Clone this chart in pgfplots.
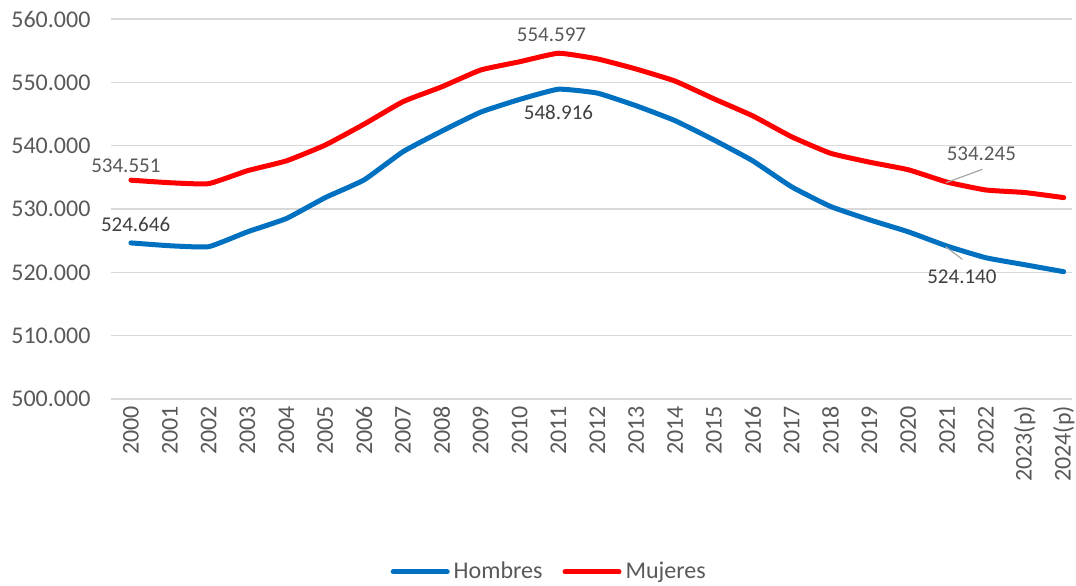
\documentclass[border=0pt]{standalone}
\usepackage{pgfplots}
\pgfplotsset{compat=1.18}
\usepackage{fontspec}
\setmainfont{Carlito}
\definecolor{hblue}{HTML}{0070C0}
\definecolor{mred}{HTML}{FF0000}
\definecolor{tickgray}{HTML}{595959}
\definecolor{gridgray}{HTML}{D9D9D9}
\definecolor{lblgray}{HTML}{404040}
\definecolor{leadgray}{HTML}{A6A6A6}
\begin{document}
\begin{tikzpicture}
\begin{axis}[
    width=480pt, height=190pt,
    scale only axis,
    xmin=-0.5, xmax=24.2,
    ymin=500000, ymax=560000,
    ytick={500000,510000,...,560000},
    xtick={0,...,24},
    xticklabels={2000,2001,2002,2003,2004,2005,2006,2007,2008,2009,2010,2011,2012,2013,2014,2015,2016,2017,2018,2019,2020,2021,2022,2023(p),2024(p)},
    x tick label style={rotate=90, anchor=east, font=\fontsize{12}{14}\selectfont, text=tickgray},
    y tick label style={font=\fontsize{12}{14}\selectfont, text=tickgray, xshift=-7pt},
    scaled y ticks=false,
    /pgf/number format/.cd, 1000 sep={.}, fixed, precision=0, assume math mode=true,
    /pgfplots/.cd,
    axis line style={draw=none},
    major tick length=0pt,
    ymajorgrids,
    grid style={gridgray, line width=0.8pt},
    legend style={at={(0.457,-0.455)}, anchor=center, draw=none, legend columns=2,
        font=\fontsize{12}{14}\selectfont, text=tickgray,
        /tikz/every even column/.append style={column sep=8pt}},
    legend image code/.code={\draw[#1, line width=2.5pt, line cap=round] (0pt,0pt) -- (27pt,0pt);},
    clip=false,
]
\addplot[hblue, line width=2.5pt, smooth, tension=0.25, line cap=round] coordinates {
    (0,524646) (1,524200) (2,524050) (3,526400) (4,528500) (5,531800)
    (6,534600) (7,539050) (8,542300) (9,545300) (10,547300) (11,548916)
    (12,548300) (13,546300) (14,543950) (15,540900) (16,537600) (17,533500)
    (18,530400) (19,528300) (20,526400) (21,524140) (22,522300) (23,521200)
    (24,520100)
};
\addlegendentry{Hombres}
\addplot[mred, line width=2.5pt, smooth, tension=0.25, line cap=round] coordinates {
    (0,534551) (1,534150) (2,534000) (3,536050) (4,537600) (5,540100)
    (6,543400) (7,546950) (8,549300) (9,551950) (10,553250) (11,554597)
    (12,553700) (13,552100) (14,550200) (15,547400) (16,544700) (17,541400)
    (18,538800) (19,537400) (20,536200) (21,534245) (22,533000) (23,532600)
    (24,531800)
};
\addlegendentry{Mujeres}
% data labels
\node[text=tickgray, font=\fontsize{10.5}{12}\selectfont] at (axis cs:-0.13,536840) {534.551};
\node[text=lblgray, font=\fontsize{10.5}{12}\selectfont] at (axis cs:0.12,527633) {524.646};
\node[text=tickgray, font=\fontsize{10.5}{12}\selectfont] at (axis cs:10.82,557587) {554.597};
\node[text=lblgray, font=\fontsize{10.5}{12}\selectfont] at (axis cs:11.0,545270) {548.916};
\node[text=tickgray, font=\fontsize{10.5}{12}\selectfont] at (axis cs:21.88,538797) {534.245};
\node[text=lblgray, font=\fontsize{10.5}{12}\selectfont] at (axis cs:21.38,519312) {524.140};
\draw[leadgray, line width=0.6pt] (axis cs:20.97,534155) -- (axis cs:21.91,536270);
\draw[leadgray, line width=0.6pt] (axis cs:20.96,524049) -- (axis cs:21.39,522060);
\coordinate (bl) at (rel axis cs:0,0);
\end{axis}
\pgfresetboundingbox
\path[use as bounding box] (bl) ++(-55.75pt,-93pt) rectangle ++(538pt,292.5pt);
\end{tikzpicture}
\end{document}
